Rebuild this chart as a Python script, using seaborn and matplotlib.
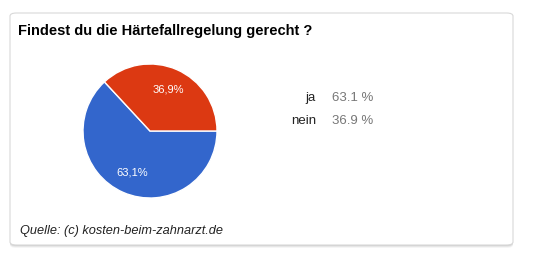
import matplotlib
matplotlib.use("Agg")
import matplotlib.pyplot as plt
import seaborn as sns
from matplotlib.patches import FancyBboxPatch

# Chart data
answers = ["ja", "nein"]
shares = [63.1, 36.9]
slice_colors = ["#3366cc", "#dc3912"]
title = "Findest du die Härtefallregelung gerecht ?"
source = "Quelle: (c) kosten-beim-zahnarzt.de"

sns.set_theme(style="white")
plt.rcParams["font.family"] = ["Liberation Sans", "DejaVu Sans"]

W, H = 541, 262
fig = plt.figure(figsize=(W / 100, H / 100), dpi=100)
fig.patch.set_facecolor("white")

# card with soft shadow
for off, alpha in [(3, 0.04), (2, 0.06), (1, 0.08)]:
    fig.patches.append(FancyBboxPatch(
        (10 / W, (H - 245 - off) / H), 503 / W, 232 / H,
        boxstyle="round,pad=0,rounding_size=0.012", transform=fig.transFigure,
        facecolor="black", edgecolor="none", alpha=alpha, zorder=0))
fig.patches.append(FancyBboxPatch(
    (10 / W, (H - 245) / H), 503 / W, 232 / H,
    boxstyle="round,pad=0,rounding_size=0.012", transform=fig.transFigure,
    facecolor="white", edgecolor="#d8d8d8", linewidth=0.8, zorder=1))

fig.text(18 / W, 1 - 31 / H, title, fontsize=10.5, fontweight="bold",
         color="#000000", va="center", ha="left", zorder=3)
fig.text(20 / W, 1 - 231 / H, source, fontsize=9.2, style="italic",
         color="#222222", va="center", ha="left", zorder=3)

# pie
cx, cy, r = 150, 131, 67
ax = fig.add_axes([(cx - r) / W, (H - cy - r) / H, 2 * r / W, 2 * r / H])
ax.set_zorder(2)
ax.pie(shares, colors=slice_colors, startangle=360 * shares[1] / 100,
       counterclock=True, radius=1,
       autopct=lambda p: f"{p:.1f}%".replace(".", ","), pctdistance=0.67,
       wedgeprops=dict(edgecolor="white", linewidth=1),
       textprops=dict(color="white", fontsize=8))
ax.set_xlim(-1, 1)
ax.set_ylim(-1, 1)
ax.set_aspect("auto")
ax.axis("off")

# legend
for i, (name, val) in enumerate(zip(answers, shares)):
    y = 1 - (98 + i * 23) / H
    fig.text(316 / W, y, name, fontsize=9.5, color="#222222",
             ha="right", va="center", zorder=3)
    fig.text(332 / W, y, f"{val:.1f} %", fontsize=9.5, color="#777777",
             ha="left", va="center", zorder=3)

fig.savefig("out.png", dpi=100)
